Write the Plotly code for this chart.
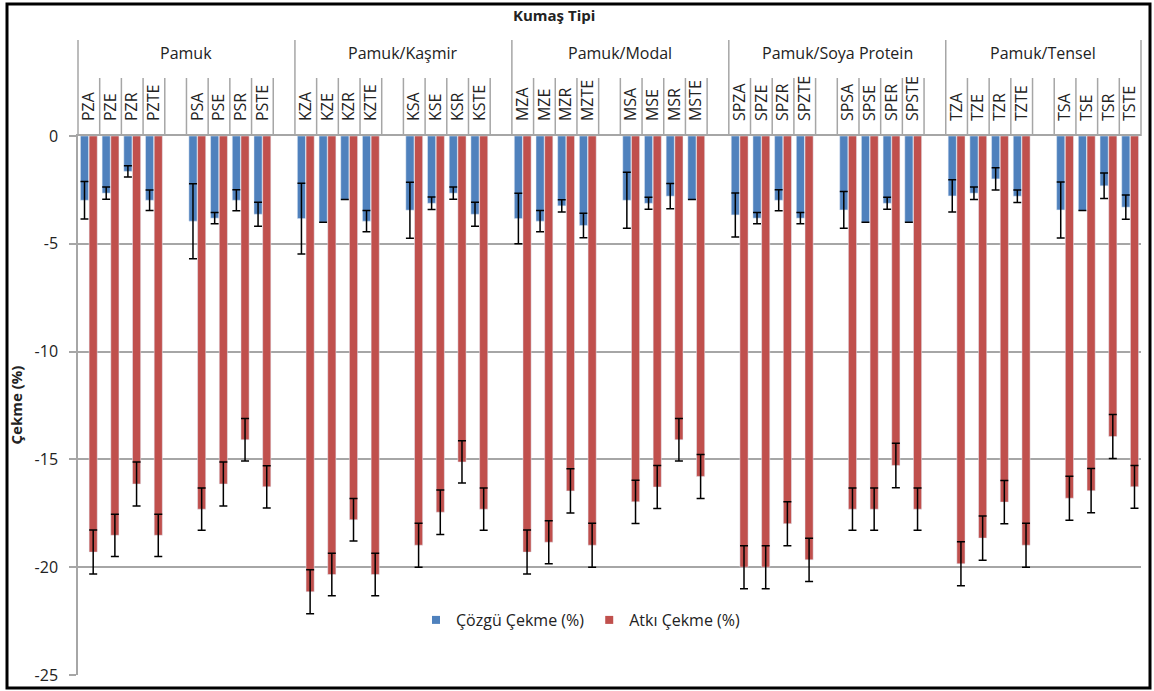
import plotly.graph_objects as go

# Fabric groups and sample codes (two sub-series of four per group)
groups = ["Pamuk", "Pamuk/Kaşmir", "Pamuk/Modal", "Pamuk/Soya Protein", "Pamuk/Tensel"]
codes = [
    ["PZA", "PZE", "PZR", "PZTE", "PSA", "PSE", "PSR", "PSTE"],
    ["KZA", "KZE", "KZR", "KZTE", "KSA", "KSE", "KSR", "KSTE"],
    ["MZA", "MZE", "MZR", "MZTE", "MSA", "MSE", "MSR", "MSTE"],
    ["SPZA", "SPZE", "SPZR", "SPZTE", "SPSA", "SPSE", "SPER", "SPSTE"],
    ["TZA", "TZE", "TZR", "TZTE", "TSA", "TSE", "TSR", "TSTE"],
]

# Warp shrinkage (%) and its error
cozgu = [-2.98, -2.65, -1.64, -2.98, -3.95, -3.81, -2.98, -3.63,
         -3.83, -4.00, -2.95, -3.95, -3.44, -3.12, -2.65, -3.63,
         -3.83, -3.95, -3.24, -4.15, -2.98, -3.12, -2.79, -2.95,
         -3.66, -3.81, -2.98, -3.81, -3.43, -4.00, -3.12, -4.00,
         -2.78, -2.65, -1.99, -2.79, -3.43, -3.46, -2.31, -3.30]
cozgu_err = [0.87, 0.28, 0.26, 0.48, 1.74, 0.26, 0.49, 0.56,
             1.64, 0.00, 0.00, 0.49, 1.30, 0.29, 0.28, 0.56,
             1.17, 0.49, 0.28, 0.57, 1.30, 0.28, 0.59, 0.00,
             1.02, 0.26, 0.49, 0.26, 0.85, 0.00, 0.28, 0.00,
             0.75, 0.29, 0.52, 0.29, 1.30, 0.00, 0.59, 0.56]

# Weft shrinkage (%) and its error
atki = [-19.30, -18.52, -16.14, -18.52, -17.31, -16.14, -14.09, -16.27,
        -21.14, -20.34, -17.80, -20.34, -18.98, -17.45, -15.12, -17.31,
        -19.30, -18.84, -16.46, -18.98, -16.97, -16.28, -14.09, -15.79,
        -20.00, -20.00, -17.98, -19.66, -17.31, -17.31, -15.28, -17.31,
        -19.84, -18.65, -16.98, -18.98, -16.80, -16.45, -13.94, -16.27]
atki_err = [1.02, 0.98, 1.02, 0.98, 0.98, 1.02, 0.99, 0.98,
            1.02, 0.99, 0.99, 0.99, 1.02, 1.03, 0.98, 0.98,
            1.02, 1.00, 1.03, 1.02, 1.00, 1.00, 0.99, 1.02,
            1.00, 1.00, 1.02, 1.00, 0.98, 0.98, 1.03, 0.98,
            1.02, 1.03, 1.00, 1.02, 1.02, 1.03, 1.02, 0.99]

y_ticks = [0, -5, -10, -15, -20, -25]
y_tick_text = ["0", "-5", "-10", "-15", "-20", "-25"]

BLUE = "#4F81BD"
RED = "#C0504D"
GRID = "#A6A6A6"
TXT = "#222222"
FONT = "Open Sans"

# Category slots: each group = 4 codes, a blank slot, 4 codes, a blank slot
# (the last group has no trailing blank)
SLOTS_PER_GROUP = 10
n_slots = SLOTS_PER_GROUP * len(groups) - 1
x_pos, labels = [], []
for g, grp_codes in enumerate(codes):
    for k, c in enumerate(grp_codes):
        x_pos.append(g * SLOTS_PER_GROUP + k + (1 if k >= 4 else 0))
        labels.append(c)

W, H = 1154, 691
ML, MR, MT, MB = 78, 13, 136, 16
PW, PH = W - ML - MR, H - MT - MB


def paper_x(px):
    return (px - ML) / PW


def paper_y(py):
    return (H - MB - py) / PH


def slot_edge(s):
    # paper x of the left edge of slot s
    return s / n_slots


fig = go.Figure()
fig.add_trace(go.Bar(
    x=x_pos, y=cozgu, name="Çözgü Çekme (%)", marker_color=BLUE,
    showlegend=False,
    error_y=dict(type="data", array=cozgu_err, color="black", thickness=1.5, width=4),
))
fig.add_trace(go.Bar(
    x=x_pos, y=atki, name="Atkı Çekme (%)", marker_color=RED,
    showlegend=False,
    error_y=dict(type="data", array=atki_err, color="black", thickness=1.5, width=4),
))
# legend entries with small square keys
for nm, col in [("Çözgü Çekme (%)", BLUE), ("Atkı Çekme (%)", RED)]:
    fig.add_trace(go.Scatter(x=[None], y=[None], mode="markers", name=nm,
                             marker=dict(symbol="square", size=8, color=col)))

shapes = []
# separators between code slots
for s in range(n_slots + 1):
    big = (s % SLOTS_PER_GROUP == 0) or s == n_slots
    shapes.append(dict(type="line", xref="paper", yref="paper",
                       x0=slot_edge(s), x1=slot_edge(s),
                       y0=1, y1=paper_y(40 if big else 78),
                       line=dict(color=GRID, width=1.5)))
# outer frame
shapes.append(dict(type="rect", xref="paper", yref="paper",
                   x0=paper_x(7), x1=paper_x(1150), y0=paper_y(688), y1=paper_y(4),
                   line=dict(color="black", width=3)))

annotations = []
for g, name in enumerate(groups):
    start = g * SLOTS_PER_GROUP
    end = min(start + SLOTS_PER_GROUP, n_slots)
    annotations.append(dict(x=(slot_edge(start) + slot_edge(end)) / 2, y=paper_y(53),
                            xref="paper", yref="paper", xanchor="center", yanchor="middle",
                            text=name, showarrow=False,
                            font=dict(family=FONT, size=16, color=TXT)))
annotations.append(dict(x=paper_x(554), y=paper_y(15), xref="paper", yref="paper",
                        xanchor="center", yanchor="middle",
                        text="<b>Kumaş Tipi</b>", showarrow=False,
                        font=dict(family=FONT, size=15, color=TXT)))
annotations.append(dict(x=paper_x(15), y=0.5, xref="paper", yref="paper",
                        xanchor="center", yanchor="middle",
                        text="<b>Çekme (%)</b>", textangle=-90, showarrow=False,
                        font=dict(family=FONT, size=15, color=TXT)))

fig.update_layout(
    width=W, height=H,
    margin=dict(l=ML, r=MR, t=MT, b=MB, autoexpand=False),
    paper_bgcolor="white", plot_bgcolor="white",
    barmode="group", bargap=0.2, bargroupgap=0.06,
    font=dict(family=FONT, size=16, color=TXT),
    shapes=shapes, annotations=annotations,
    legend=dict(orientation="h", x=paper_x(581), y=paper_y(620),
                xanchor="center", yanchor="middle", bgcolor="rgba(0,0,0,0)",
                font=dict(family=FONT, size=16, color=TXT)),
    xaxis=dict(range=[-0.5, n_slots - 0.5], side="top", tickmode="array",
               tickvals=x_pos, ticktext=labels, tickangle=-90, ticks="",
               showgrid=False, zeroline=False, showline=True, linecolor=GRID,
               linewidth=1.5, ticklabelstandoff=10,
               tickfont=dict(family=FONT, size=16, color=TXT)),
    yaxis=dict(range=[-25, 0], tickmode="array", tickvals=y_ticks, ticktext=y_tick_text,
               showgrid=True, gridcolor=GRID, gridwidth=1.5, zeroline=False,
               showline=True, linecolor=GRID, linewidth=1.5,
               ticks="outside", ticklen=7, tickcolor=GRID, tickwidth=1.5,
               ticklabelstandoff=8,
               tickfont=dict(family=FONT, size=16, color=TXT)),
)

fig.write_html("out.html")
